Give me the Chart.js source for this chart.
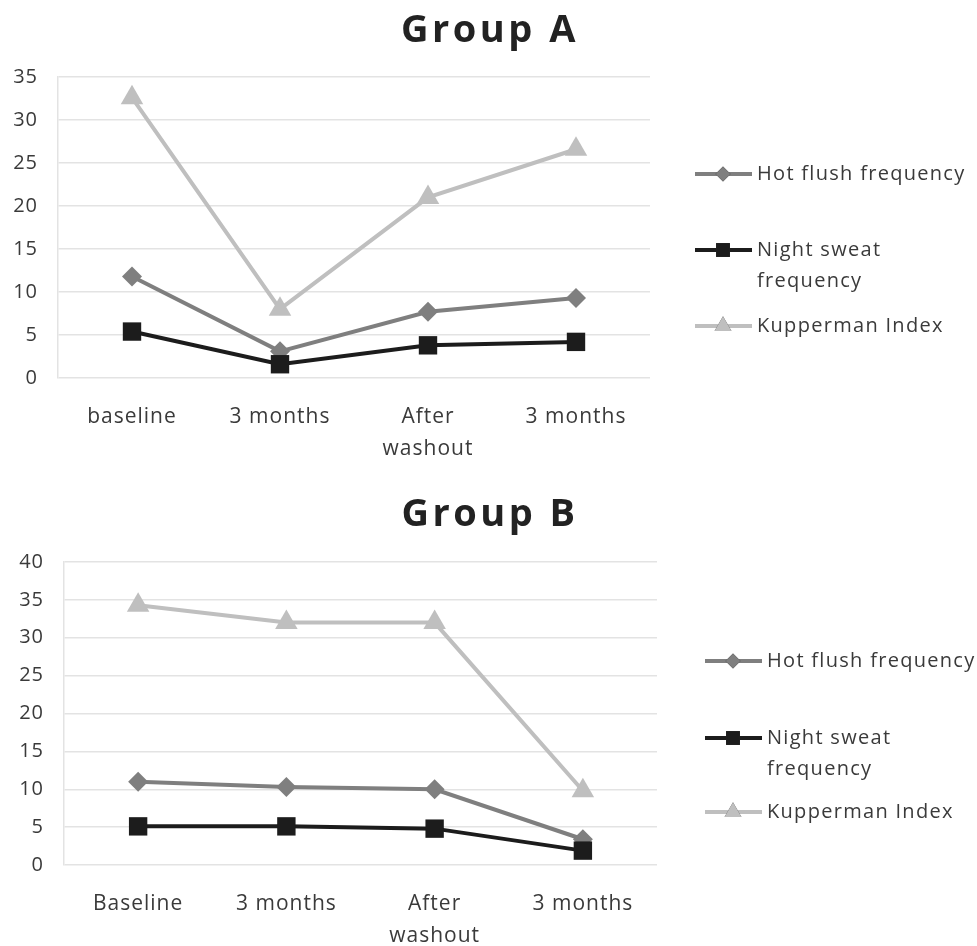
<!DOCTYPE html>
<html>
<head>
<meta charset="utf-8">
<script src="https://cdn.jsdelivr.net/npm/chart.js@4"></script>
<style>
  body { margin: 0; background: #fff; }
  .box { position: relative; width: 977px; }
  #boxA { height: 470px; }
  #boxB { height: 476px; }
</style>
</head>
<body>
<div class="box" id="boxA"><canvas id="chartA"></canvas></div>
<div class="box" id="boxB"><canvas id="chartB"></canvas></div>
<script>
var seriesNames = ["Hot flush frequency", ["Night sweat", "frequency"], "Kupperman Index"];

var labelsA = ["baseline", "3 months", ["After", "washout"], "3 months"];
var hotFlushA = [11.8, 3.1, 7.7, 9.3];
var nightSweatA = [5.4, 1.6, 3.8, 4.2];
var kuppermanA = [32.6, 8.0, 21.0, 26.6];

var labelsB = ["Baseline", "3 months", ["After", "washout"], "3 months"];
var hotFlushB = [11.0, 10.3, 10.0, 3.4];
var nightSweatB = [5.1, 5.1, 4.8, 1.9];
var kuppermanB = [34.3, 32.0, 32.0, 9.8];

var FONT = "'Open Sans', sans-serif";
var TEXT = "#3a3a3a";

var styles = [
  {color: "#7f7f7f", point: "rectRot", r: 10},
  {color: "#1c1c1c", point: "rect", r: 13},
  {color: "#bfbfbf", point: "triangle", r: 13}
];

function makeDatasets(values){
  return values.map(function(v, i){
    return {
      label: Array.isArray(seriesNames[i]) ? seriesNames[i].join(" ") : seriesNames[i],
      data: v,
      borderColor: styles[i].color,
      backgroundColor: styles[i].color,
      borderWidth: 4,
      pointStyle: styles[i].point,
      pointRadius: styles[i].r,
      pointBorderWidth: 0,
      order: 3 - i,
      tension: 0
    };
  });
}

// title + excel style legend drawn on canvas
var decor = {
  id: "decor",
  beforeDraw: function(chart){
    // slightly spaced tick text like the original
    chart.ctx.letterSpacing = "1px";
  },
  afterDraw: function(chart){
    var o = chart.options.plugins.decor;
    var ctx = chart.ctx;
    ctx.save();
    ctx.font = "bold 38px " + FONT;
    ctx.letterSpacing = "3.5px";
    ctx.fillStyle = "#222";
    ctx.textAlign = "center";
    ctx.textBaseline = "middle";
    ctx.fillText(o.title, o.titleX, o.titleY);
    ctx.letterSpacing = "1.3px";
    ctx.font = "20px " + FONT;
    ctx.textAlign = "left";
    chart.data.datasets.forEach(function(ds, i){
      var y = o.legendY[i];
      ctx.strokeStyle = ds.borderColor;
      ctx.lineWidth = 4;
      ctx.beginPath();
      ctx.moveTo(o.legendX, y);
      ctx.lineTo(o.legendX + 57, y);
      ctx.stroke();
      Chart.helpers.drawPoint(ctx, {pointStyle: ds.pointStyle, radius: ds.pointRadius * 0.75, borderWidth: 0, rotation: 0}, o.legendX + 28, y);
      ctx.fillStyle = ds.backgroundColor;
      ctx.fill();
      ctx.fillStyle = TEXT;
      var lines = [].concat(seriesNames[i]);
      lines.forEach(function(t, k){
        ctx.fillText(t, o.legendX + 62, y + k * 31);
      });
    });
    ctx.restore();
  }
};

function makeChart(id, labels, values, yMax, opts){
  return new Chart(document.getElementById(id), {
    type: "line",
    data: {labels: labels, datasets: makeDatasets(values)},
    plugins: [decor],
    options: {
      responsive: true,
      maintainAspectRatio: false,
      animation: false,
      layout: {padding: {left: 0, right: opts.padRight, top: opts.padTop, bottom: 0}},
      plugins: {
        legend: {display: false},
        tooltip: {enabled: false},
        decor: opts
      },
      scales: {
        x: {
          offset: true,
          grid: {display: false, drawTicks: false},
          border: {display: false},
          ticks: {color: TEXT, font: {family: FONT, size: 21, lineHeight: 1.52}, padding: 23, maxRotation: 0},
          afterFit: function(s){ s.height = opts.xHeight; }
        },
        y: {
          min: 0,
          max: yMax,
          grid: {color: "#e3e3e3", lineWidth: 1.5, drawTicks: false},
          border: {display: true, color: "#e3e3e3", width: 1.5},
          ticks: {stepSize: 5, color: TEXT, font: {family: FONT, size: 20}, padding: 20},
          afterFit: function(s){ s.width = opts.yWidth; }
        }
      }
    }
  });
}

makeChart("chartA", labelsA, [hotFlushA, nightSweatA, kuppermanA], 35, {
  padRight: 327, padTop: 77, xHeight: 92, yWidth: 58,
  title: "Group A", titleX: 490, titleY: 31,
  legendX: 695, legendY: [174, 250, 326]
});

makeChart("chartB", labelsB, [hotFlushB, nightSweatB, kuppermanB], 40, {
  padRight: 320, padTop: 92, xHeight: 81, yWidth: 64,
  title: "Group B", titleX: 490, titleY: 45,
  legendX: 705, legendY: [191, 268, 342]
});
</script>
</body>
</html>
